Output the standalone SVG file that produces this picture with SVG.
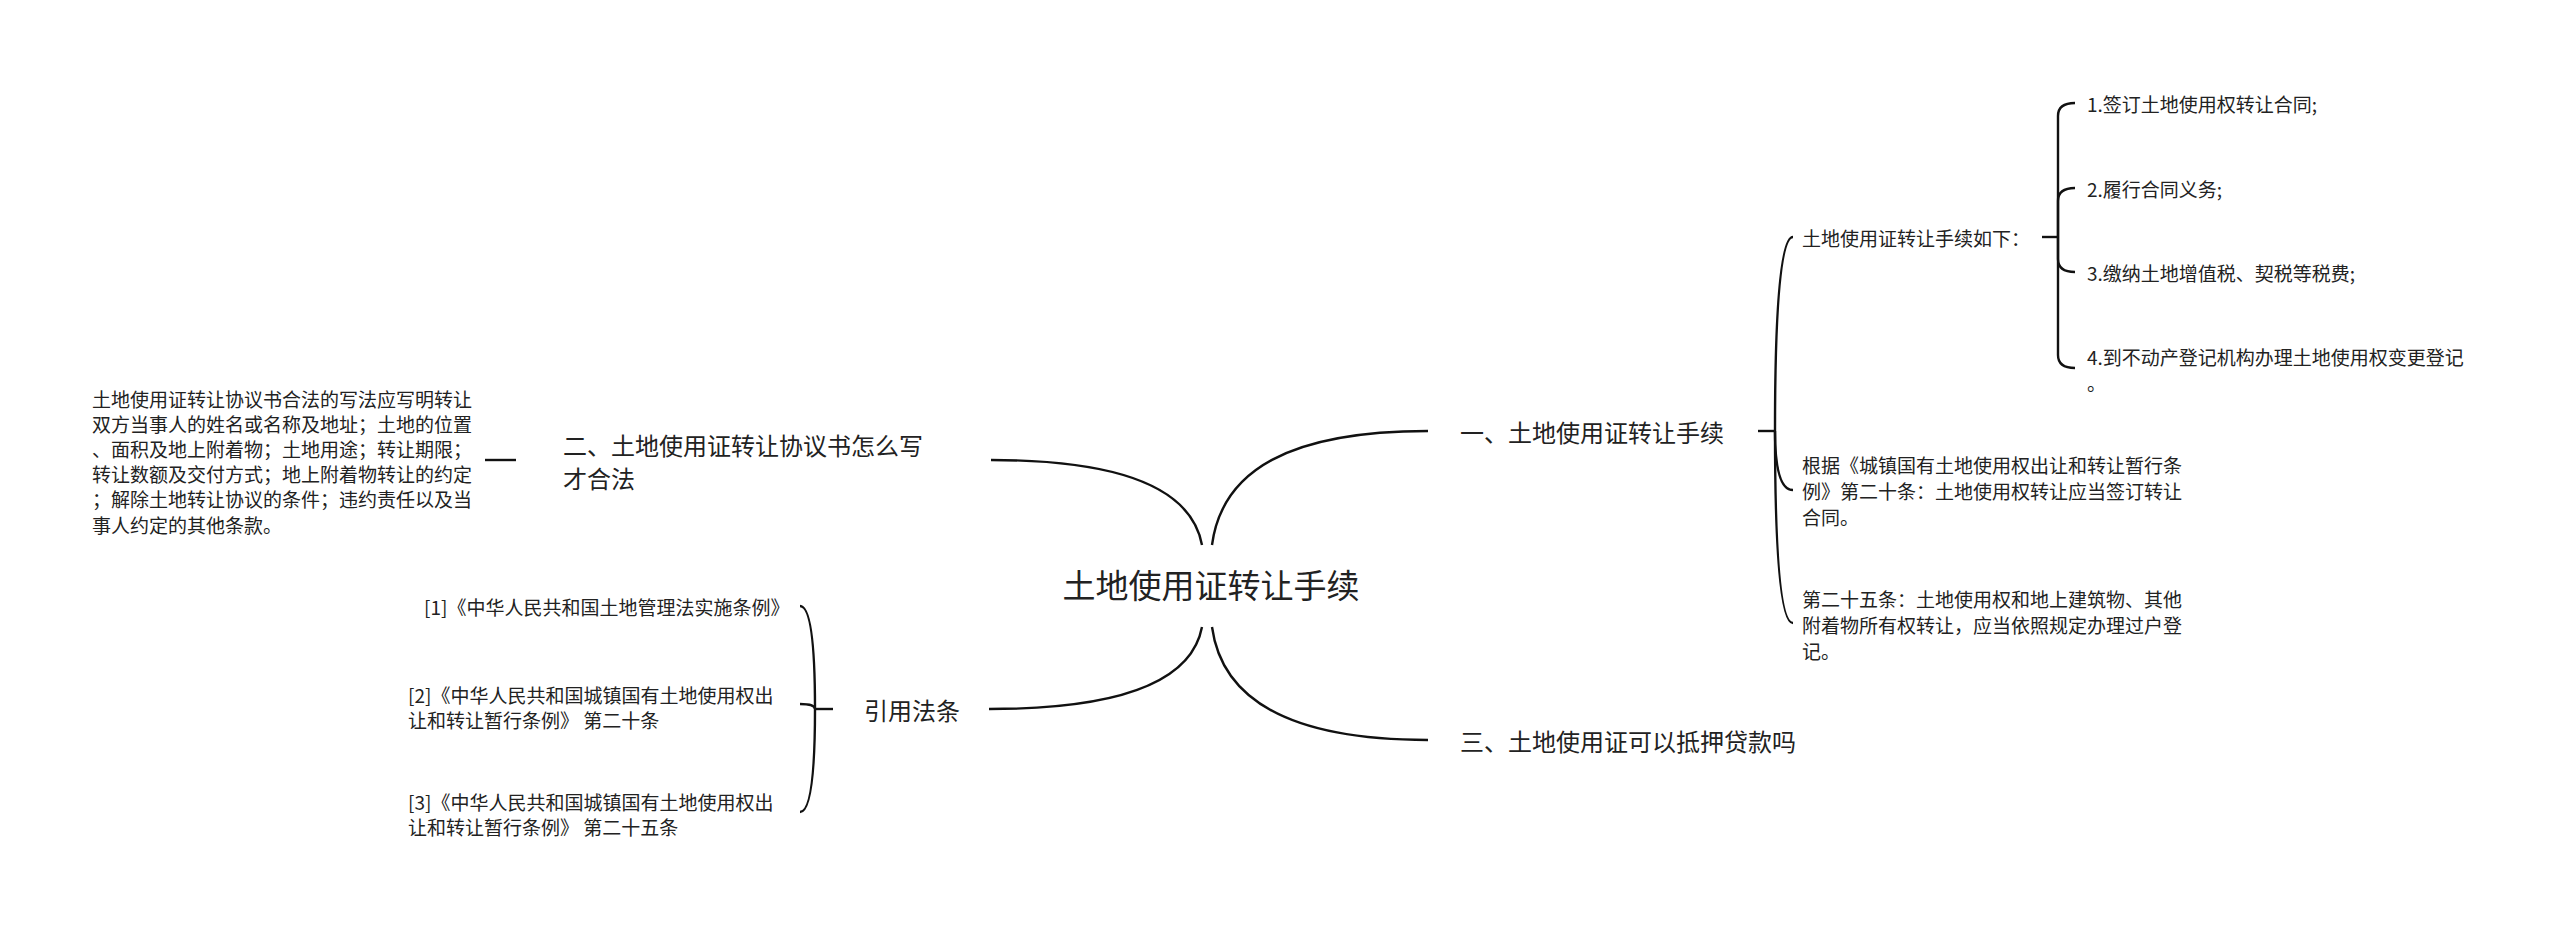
<svg xmlns="http://www.w3.org/2000/svg" width="2560" height="929" viewBox="0 0 2560 929">
<style>
text{font-family:"Noto Sans CJK SC","Noto Sans",sans-serif;fill:#222;dominant-baseline:central}
.root{font-size:33px}
.b{font-size:24px}
.l{font-size:19px}
#connectors path{fill:none;stroke:#111;stroke-width:2.4}
</style>
<rect width="2560" height="929" fill="#fff"/>
<g id="connectors">
<path d="M1212,545 C1222,470 1290,431 1428,431"/>
<path d="M1212,627 C1222,700 1290,740 1428,740"/>
<path d="M1202,545 C1190,480 1100,460 991,460"/>
<path d="M1202,627 C1190,690 1100,709 989,709"/>
<path d="M485,460 L516,460"/>
<path d="M833,709 L815,709"/>
<path d="M815,709 Q815,606 800,606"/>
<path d="M815,709 Q815,704 800,704"/>
<path d="M815,709 Q815,812 800,812"/>
<path d="M1758,431 L1775,431"/>
<path d="M1775,431 Q1775,237 1793,237"/>
<path d="M1775,431 Q1775,490 1793,490"/>
<path d="M1775,431 Q1775,623 1793,623"/>
<path d="M2042,237 L2058,237"/>
<path d="M2058,237 L2058,116 Q2058,103 2075,103"/>
<path d="M2058,237 L2058,201 Q2058,188 2075,188"/>
<path d="M2058,237 L2058,259 Q2058,272 2075,272"/>
<path d="M2058,237 L2058,355 Q2058,368 2075,368"/>
</g>
<g id="root"><text class="root" x="1211" y="584" text-anchor="middle">土地使用证转让手续</text></g>
<g id="n1"><text class="b" x="1460" y="431">一、土地使用证转让手续</text></g>
<g id="n3"><text class="b" x="1460" y="740">三、土地使用证可以抵押贷款吗</text></g>
<g id="n2"><text class="b" x="563" y="444">二、土地使用证转让协议书怎么写</text><text class="b" x="563" y="477">才合法</text></g>
<g id="n4"><text class="b" x="864" y="709">引用法条</text></g>
<g id="n2a">
<text class="l" x="92" y="398">土地使用证转让协议书合法的写法应写明转让</text>
<text class="l" x="92" y="423.2">双方当事人的姓名或名称及地址；土地的位置</text>
<text class="l" x="92" y="448.4">、面积及地上附着物；土地用途；转让期限；</text>
<text class="l" x="92" y="473.6">转让数额及交付方式；地上附着物转让的约定</text>
<text class="l" x="92" y="498.8">；解除土地转让协议的条件；违约责任以及当</text>
<text class="l" x="92" y="524">事人约定的其他条款。</text>
</g>
<g id="r1"><text class="l" x="424" y="606">[1]《中华人民共和国土地管理法实施条例》</text></g>
<g id="r2"><text class="l" x="408" y="694">[2]《中华人民共和国城镇国有土地使用权出</text><text class="l" x="408" y="719">让和转让暂行条例》 第二十条</text></g>
<g id="r3"><text class="l" x="408" y="801">[3]《中华人民共和国城镇国有土地使用权出</text><text class="l" x="408" y="826">让和转让暂行条例》 第二十五条</text></g>
<g id="n1a"><text class="l" x="1802" y="237">土地使用证转让手续如下：</text></g>
<g id="n1b"><text class="l" x="1802" y="464">根据《城镇国有土地使用权出让和转让暂行条</text><text class="l" x="1802" y="490">例》第二十条：土地使用权转让应当签订转让</text><text class="l" x="1802" y="516">合同。</text></g>
<g id="n1c"><text class="l" x="1802" y="598">第二十五条：土地使用权和地上建筑物、其他</text><text class="l" x="1802" y="624">附着物所有权转让，应当依照规定办理过户登</text><text class="l" x="1802" y="650">记。</text></g>
<g id="i1"><text class="l" x="2087" y="103">1.签订土地使用权转让合同;</text></g>
<g id="i2"><text class="l" x="2087" y="188">2.履行合同义务;</text></g>
<g id="i3"><text class="l" x="2087" y="272">3.缴纳土地增值税、契税等税费;</text></g>
<g id="i4"><text class="l" x="2087" y="356">4.到不动产登记机构办理土地使用权变更登记</text><text class="l" x="2087" y="382">。</text></g>
</svg>
